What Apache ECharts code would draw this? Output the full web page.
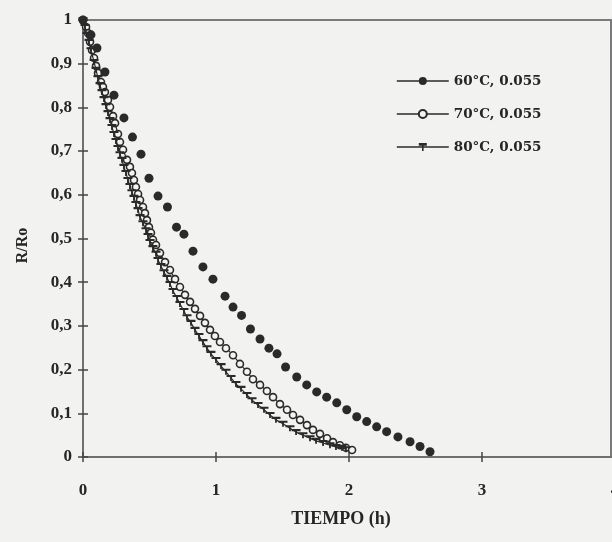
<!DOCTYPE html>
<html>
<head>
<meta charset="utf-8">
<script src="https://cdn.jsdelivr.net/npm/echarts@6/dist/echarts.min.js"></script>
<style>
html,body{margin:0;padding:0;background:#f2f2f0;}
#c{width:612px;height:542px;}
</style>
</head>
<body>
<div id="c"></div>
<script>
// Series names
const seriesNames = ['60°C, 0.055', '70°C, 0.055', '80°C, 0.055'];
// X tick labels / Y tick labels (as shown)
const xTicks = [0, 1, 2, 3, 4];
const yTicks = [0, 0.1, 0.2, 0.3, 0.4, 0.5, 0.6, 0.7, 0.8, 0.9, 1];

// 60 °C (filled circles): time (h), R/Ro
const t60 = [0, 0.06, 0.105, 0.165, 0.233, 0.308, 0.372, 0.436, 0.496, 0.564, 0.635, 0.703, 0.759, 0.827, 0.902, 0.977, 1.068, 1.128, 1.192, 1.259, 1.331, 1.398, 1.459, 1.523, 1.607, 1.682, 1.757, 1.832, 1.908, 1.983, 2.058, 2.133, 2.208, 2.283, 2.368, 2.459, 2.534, 2.609];
const r60 = [1.0, 0.966, 0.936, 0.881, 0.828, 0.776, 0.732, 0.693, 0.638, 0.597, 0.572, 0.526, 0.510, 0.471, 0.435, 0.407, 0.368, 0.343, 0.324, 0.293, 0.270, 0.249, 0.236, 0.206, 0.183, 0.165, 0.149, 0.137, 0.124, 0.108, 0.092, 0.081, 0.069, 0.058, 0.046, 0.035, 0.024, 0.012];

// 70 °C (hollow circles)
const t70 = [0, 0.023, 0.038, 0.053, 0.068, 0.083, 0.098, 0.113, 0.135, 0.150, 0.165, 0.188, 0.203, 0.226, 0.241, 0.263, 0.278, 0.301, 0.331, 0.353, 0.368, 0.383, 0.398, 0.414, 0.429, 0.451, 0.466, 0.481, 0.496, 0.511, 0.526, 0.549, 0.579, 0.617, 0.654, 0.692, 0.729, 0.767, 0.805, 0.842, 0.880, 0.917, 0.955, 0.992, 1.030, 1.075, 1.128, 1.180, 1.233, 1.278, 1.331, 1.383, 1.429, 1.481, 1.534, 1.579, 1.632, 1.684, 1.729, 1.782, 1.835, 1.880, 1.932, 1.977, 2.023];
const r70 = [1.0, 0.984, 0.970, 0.950, 0.931, 0.913, 0.895, 0.879, 0.858, 0.847, 0.835, 0.817, 0.801, 0.780, 0.764, 0.739, 0.721, 0.703, 0.680, 0.664, 0.650, 0.634, 0.618, 0.602, 0.588, 0.572, 0.558, 0.542, 0.526, 0.513, 0.497, 0.485, 0.467, 0.446, 0.428, 0.407, 0.389, 0.371, 0.355, 0.339, 0.323, 0.307, 0.291, 0.277, 0.263, 0.249, 0.233, 0.213, 0.195, 0.178, 0.165, 0.151, 0.137, 0.121, 0.108, 0.096, 0.085, 0.073, 0.062, 0.053, 0.043, 0.034, 0.027, 0.021, 0.016];

// 80 °C (dash markers)
const t80 = [0, 0.015, 0.030, 0.045, 0.060, 0.083, 0.098, 0.113, 0.128, 0.143, 0.158, 0.173, 0.188, 0.203, 0.218, 0.233, 0.248, 0.263, 0.278, 0.293, 0.308, 0.323, 0.338, 0.353, 0.368, 0.383, 0.398, 0.414, 0.429, 0.451, 0.474, 0.489, 0.504, 0.526, 0.549, 0.564, 0.586, 0.609, 0.632, 0.654, 0.677, 0.707, 0.729, 0.759, 0.782, 0.812, 0.842, 0.872, 0.902, 0.932, 0.962, 1.000, 1.038, 1.075, 1.113, 1.150, 1.188, 1.233, 1.271, 1.316, 1.361, 1.406, 1.451, 1.504, 1.556, 1.602, 1.654, 1.707, 1.752, 1.805, 1.857, 1.902, 1.947, 1.977];
const r80 = [1.0, 0.984, 0.966, 0.950, 0.931, 0.904, 0.886, 0.867, 0.851, 0.835, 0.819, 0.803, 0.787, 0.771, 0.755, 0.739, 0.723, 0.707, 0.693, 0.680, 0.664, 0.650, 0.634, 0.620, 0.606, 0.593, 0.579, 0.565, 0.549, 0.535, 0.519, 0.506, 0.492, 0.478, 0.465, 0.451, 0.437, 0.423, 0.410, 0.396, 0.380, 0.364, 0.350, 0.334, 0.320, 0.307, 0.291, 0.277, 0.263, 0.249, 0.236, 0.222, 0.208, 0.195, 0.181, 0.167, 0.156, 0.142, 0.130, 0.119, 0.108, 0.096, 0.085, 0.076, 0.066, 0.057, 0.050, 0.043, 0.037, 0.032, 0.027, 0.023, 0.021, 0.018];

const zip = (a, b) => a.map((v, i) => [v, b[i]]);
const SERIF = '"Liberation Serif", "DejaVu Serif", serif';
const WIDE = '"DejaVu Serif", "Liberation Serif", serif';
const INK = '#262626';
const AX = '#707070';

const chart = echarts.init(document.getElementById('c'), null, {renderer: 'canvas'});
chart.setOption({
  animation: false,
  backgroundColor: '#f2f2f0',
  grid: {left: 83, top: 20, right: -3, bottom: 85, outerBoundsMode: 'none', containLabel: false,
    show: true, borderColor: '#7a7a7a', borderWidth: 2, backgroundColor: 'transparent'},
  legend: {
    data: seriesNames,
    orient: 'vertical',
    left: 396, top: 74, padding: 0,
    itemWidth: 52, itemHeight: 10, itemGap: 19,
    lineStyle: {opacity: 1, width: 1.6},
    textStyle: {fontFamily: WIDE, fontWeight: 'bold', fontSize: 13.5, color: INK}
  },
  xAxis: [{
    type: 'value', min: xTicks[0], max: xTicks[xTicks.length - 1], interval: 1,
    name: 'TIEMPO (h)', nameLocation: 'middle', nameGap: 53,
    nameTextStyle: {fontFamily: SERIF, fontWeight: 'bold', fontSize: 18, color: INK, padding: [0, 16, 0, 0]},
    axisLine: {show: true, lineStyle: {color: AX, width: 2}},
    axisTick: {show: true, length: 5, lineStyle: {color: '#444', width: 1.5}},
    axisLabel: {margin: 25, fontFamily: SERIF, fontWeight: 'bold', fontSize: 17, color: INK},
    splitLine: {show: false}
  }, {
    type: 'value', min: xTicks[0], max: xTicks[xTicks.length - 1], interval: 1, position: 'bottom',
    axisLine: {show: false}, axisLabel: {show: false}, splitLine: {show: false},
    axisTick: {show: true, inside: true, length: 5, lineStyle: {color: '#444', width: 1.5}}
  }],
  yAxis: [{
    type: 'value', min: yTicks[0], max: yTicks[yTicks.length - 1], interval: 0.1,
    name: 'R/Ro', nameLocation: 'middle', nameGap: 52, nameRotate: 90,
    nameTextStyle: {fontFamily: SERIF, fontWeight: 'bold', fontSize: 16, color: INK, padding: [0, 14, 0, 0]},
    axisLine: {show: true, lineStyle: {color: AX, width: 2}},
    axisTick: {show: true, length: 5, lineStyle: {color: '#444', width: 1.5}},
    axisLabel: {margin: 11, fontFamily: SERIF, fontWeight: 'bold', fontSize: 17, color: INK,
      formatter: v => String(Number(v.toFixed(1))).replace('.', ',')},
    splitLine: {show: false}
  }, {
    type: 'value', min: yTicks[0], max: yTicks[yTicks.length - 1], interval: 0.1, position: 'left',
    axisLine: {show: false}, axisLabel: {show: false}, splitLine: {show: false},
    axisTick: {show: true, inside: true, length: 5, lineStyle: {color: '#444', width: 1.5}}
  }],
  graphic: [{
    type: 'line', shape: {x1: 611, y1: 20, x2: 611, y2: 457},
    style: {stroke: '#7a7a7a', lineWidth: 2}
  }],
  series: [{
    name: seriesNames[1], type: 'line', data: zip(t70, r70),
    symbol: 'circle', symbolSize: 7,
    itemStyle: {color: '#f4f4f2', borderColor: '#2a2a2a', borderWidth: 1.6},
    lineStyle: {color: '#2a2a2a', width: 1.2}, z: 3
  }, {
    name: seriesNames[2], type: 'line', data: zip(t80, r80),
    symbol: 'path://M0,0H10V2.4H6V7H4V2.4H0Z', symbolSize: [9, 6],
    itemStyle: {color: '#2a2a2a'},
    lineStyle: {color: '#2a2a2a', width: 1.2}, z: 4
  }, {
    name: seriesNames[0], type: 'line', data: zip(t60, r60),
    symbol: 'circle', symbolSize: 9,
    itemStyle: {color: '#2a2a2a'},
    lineStyle: {color: '#2a2a2a', width: 1, opacity: 0}, z: 5
  }]
});
</script>
</body>
</html>
